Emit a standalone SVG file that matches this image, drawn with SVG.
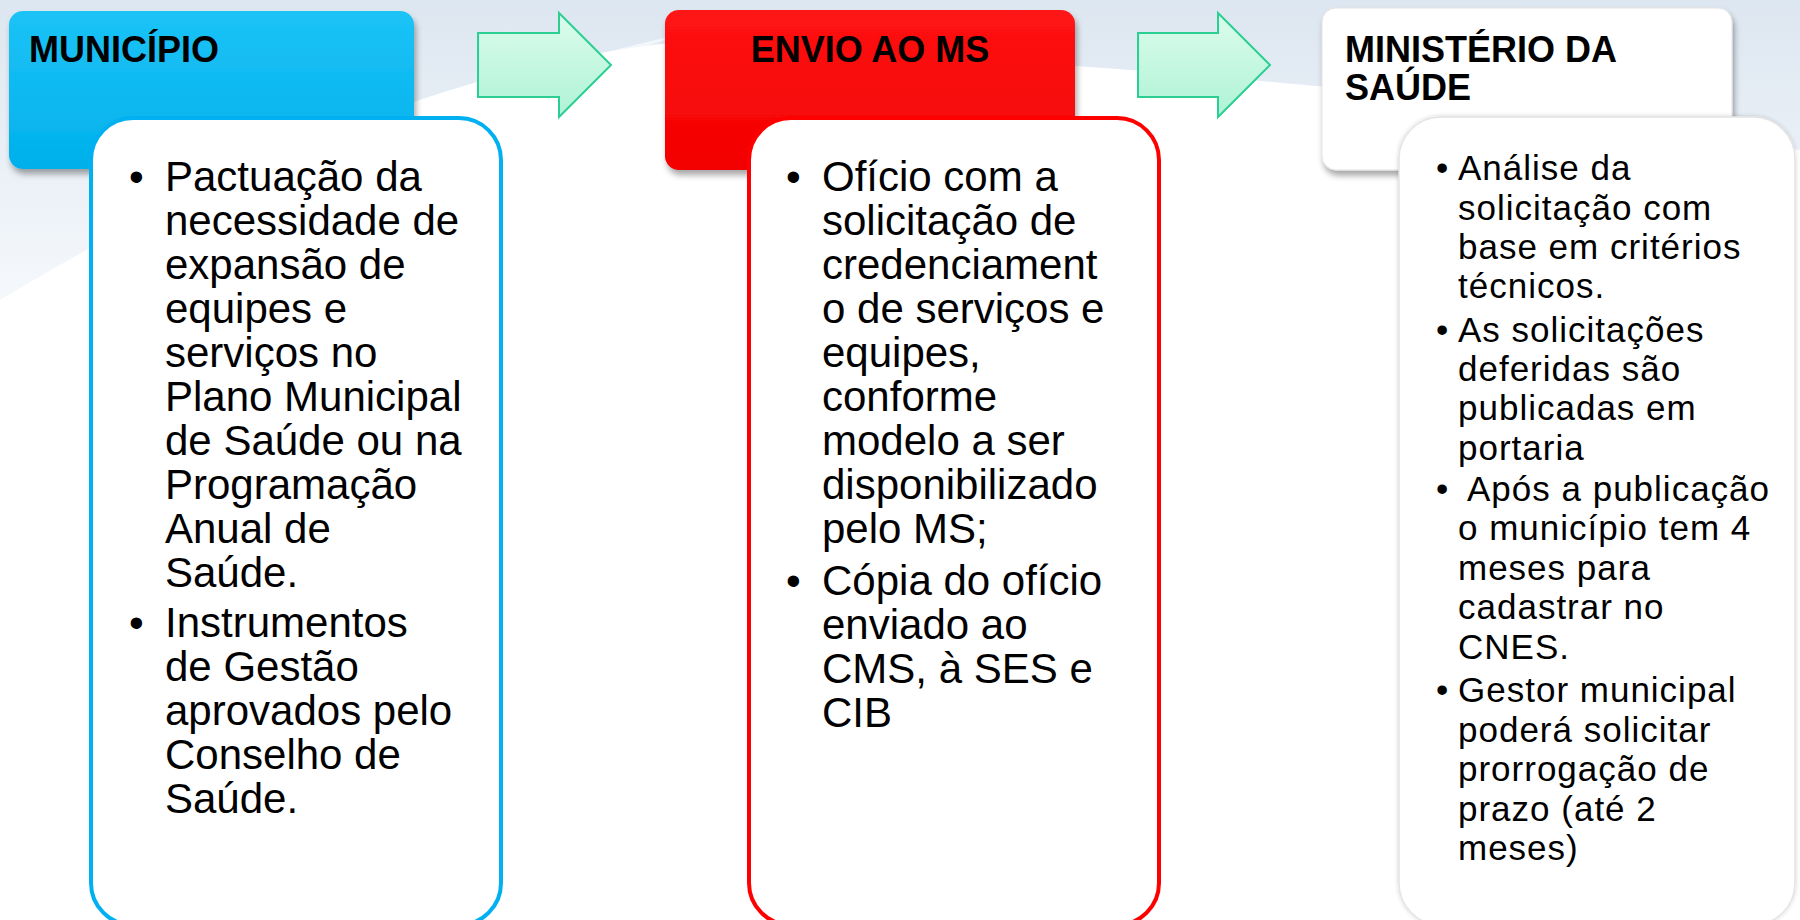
<svg xmlns="http://www.w3.org/2000/svg" width="1800" height="920" viewBox="0 0 1800 920">
<defs>
<linearGradient id="bg" x1="0" y1="0" x2="0" y2="1">
<stop offset="0" stop-color="#d9e4ef"/>
<stop offset="1" stop-color="#f4f7fb"/>
</linearGradient>
<linearGradient id="blueG" x1="0" y1="0" x2="0" y2="1">
<stop offset="0" stop-color="#1cc3f7"/>
<stop offset="1" stop-color="#00b0ea"/>
</linearGradient>
<linearGradient id="redG" x1="0" y1="0" x2="0" y2="1">
<stop offset="0" stop-color="#ff1414"/>
<stop offset="1" stop-color="#f20000"/>
</linearGradient>
<linearGradient id="arrowG" x1="0" y1="0" x2="0" y2="1">
<stop offset="0" stop-color="#dcfcec"/>
<stop offset="1" stop-color="#aef3d5"/>
</linearGradient>
<filter id="hdrShadow" x="-10%" y="-10%" width="125%" height="130%">
<feDropShadow dx="2" dy="5" stdDeviation="3" flood-color="#000" flood-opacity="0.35"/>
</filter>
<filter id="softShadow" x="-10%" y="-10%" width="120%" height="120%">
<feDropShadow dx="0" dy="0" stdDeviation="2" flood-color="#000" flood-opacity="0.18"/>
</filter>
</defs>
<style>
.title{font-family:"Liberation Sans",Arial,sans-serif;font-weight:bold;font-size:36px;fill:#000}
.body{font-family:"Liberation Sans",Arial,sans-serif;font-size:42px;fill:#000}
.body3{font-family:"Liberation Sans",Arial,sans-serif;font-size:35px;letter-spacing:1px;fill:#000}
.arrow{fill:url(#arrowG);stroke:#2ccf93;stroke-width:2;stroke-linejoin:miter}
</style>
<rect width="1800" height="920" fill="#ffffff"/>
<path d="M0,0 H1800 V150 C1500,90 1000,60 700,40 C450,60 200,180 0,300 Z" fill="url(#bg)" opacity="0.9"/>
<path d="M0,300 C200,190 420,90 700,30 C520,80 260,190 40,300 Z" fill="#ffffff" opacity="0.6"/>

<g id="connectors">
<path class="arrow" d="M478,33 H559 V13 L611,65 L559,117 V97 H478 Z"/>
<path class="arrow" d="M1138,33 H1218 V13 L1270,65 L1218,117 V97 H1138 Z"/>
</g>

<g id="municipio">
<rect x="9" y="11" width="405" height="158" rx="14" fill="url(#blueG)" filter="url(#hdrShadow)"/>
<text class="title" x="29" y="62">MUNICÍPIO</text>
<rect x="91" y="118" width="410" height="807" rx="42" fill="#ffffff" stroke="#00b0f0" stroke-width="4"/>
<g class="body">
<text x="129" y="191">•</text>
<text x="165" y="191">Pactuação da</text>
<text x="165" y="235">necessidade de</text>
<text x="165" y="279">expansão de</text>
<text x="165" y="323">equipes e</text>
<text x="165" y="367">serviços no</text>
<text x="165" y="411">Plano Municipal</text>
<text x="165" y="455">de Saúde ou na</text>
<text x="165" y="499">Programação</text>
<text x="165" y="543">Anual de</text>
<text x="165" y="587">Saúde.</text>
<text x="129" y="637">•</text>
<text x="165" y="637">Instrumentos</text>
<text x="165" y="681">de Gestão</text>
<text x="165" y="725">aprovados pelo</text>
<text x="165" y="769">Conselho de</text>
<text x="165" y="813">Saúde.</text>
</g>
</g>

<g id="envio">
<rect x="665" y="10" width="410" height="160" rx="14" fill="url(#redG)" filter="url(#hdrShadow)"/>
<text class="title" x="870" y="62" text-anchor="middle">ENVIO AO MS</text>
<rect x="749" y="118" width="410" height="807" rx="42" fill="#ffffff" stroke="#ff0000" stroke-width="4"/>
<g class="body">
<text x="786" y="191">•</text>
<text x="822" y="191">Ofício com a</text>
<text x="822" y="235">solicitação de</text>
<text x="822" y="279">credenciament</text>
<text x="822" y="323">o de serviços e</text>
<text x="822" y="367">equipes,</text>
<text x="822" y="411">conforme</text>
<text x="822" y="455">modelo a ser</text>
<text x="822" y="499">disponibilizado</text>
<text x="822" y="543">pelo MS;</text>
<text x="786" y="595">•</text>
<text x="822" y="595">Cópia do ofício</text>
<text x="822" y="639">enviado ao</text>
<text x="822" y="683">CMS, à SES e</text>
<text x="822" y="727">CIB</text>
</g>
</g>

<g id="ministerio">
<rect x="1322" y="8" width="410" height="162" rx="14" fill="#ffffff" stroke="#e2e2e2" stroke-width="1" filter="url(#hdrShadow)"/>
<text class="title" x="1345" y="62">MINISTÉRIO DA</text>
<text class="title" x="1345" y="100">SAÚDE</text>
<rect x="1399" y="117" width="396" height="808" rx="42" fill="#ffffff" stroke="#e4e4e4" stroke-width="1.5" filter="url(#softShadow)"/>
<g class="body3">
<text x="1436" y="180">•</text>
<text x="1458" y="180">Análise da</text>
<text x="1458" y="219.5">solicitação com</text>
<text x="1458" y="259">base em critérios</text>
<text x="1458" y="298">técnicos.</text>
<text x="1436" y="341.5">•</text>
<text x="1458" y="341.5">As solicitações</text>
<text x="1458" y="381">deferidas são</text>
<text x="1458" y="420">publicadas em</text>
<text x="1458" y="459.5">portaria</text>
<text x="1436" y="500.5">•</text>
<text x="1467" y="500.5">Após a publicação</text>
<text x="1458" y="540">o município tem 4</text>
<text x="1458" y="579.5">meses para</text>
<text x="1458" y="619">cadastrar no</text>
<text x="1458" y="658.5">CNES.</text>
<text x="1436" y="702">•</text>
<text x="1458" y="702">Gestor municipal</text>
<text x="1458" y="741.5">poderá solicitar</text>
<text x="1458" y="781">prorrogação de</text>
<text x="1458" y="820.5">prazo (até 2</text>
<text x="1458" y="860">meses)</text>
</g>
</g>
</svg>
